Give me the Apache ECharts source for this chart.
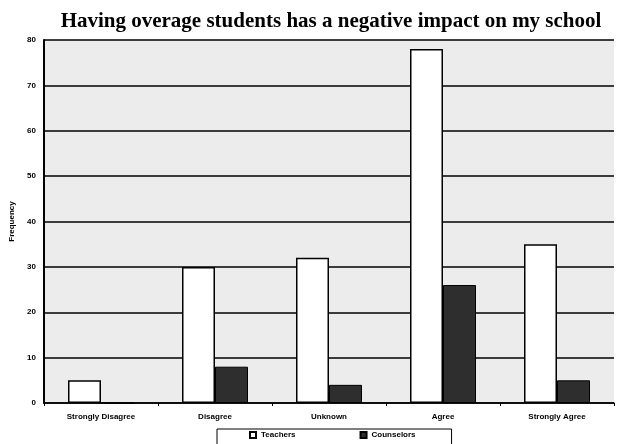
<!DOCTYPE html>
<html>
<head>
<meta charset="utf-8">
<script src="https://cdn.jsdelivr.net/npm/echarts@6/dist/echarts.min.js"></script>
<style>
  html, body { margin: 0; padding: 0; background: #ffffff; }
  #chart { width: 621px; height: 444px; }
</style>
</head>
<body>
<div id="chart"></div>
<script>
// data
const categories = ['Strongly Disagree', 'Disagree', 'Unknown', 'Agree', 'Strongly Agree']
const teachers = [5, 30, 32, 78, 35]
const counselors = [0, 8, 4, 26, 5]
const yTicks = [0, 10, 20, 30, 40, 50, 60, 70, 80]

const myChart = echarts.init(document.getElementById('chart'))

const labelFont = {
  color: '#000000',
  fontSize: 8,
  fontWeight: 'bold',
  fontFamily: 'Liberation Sans'
}

const options = {
  animation: false,
  // title
  title: {
    text: 'Having overage students has a negative impact on my school',
    left: 326,
    textAlign: 'center',
    top: 6,
    textStyle: {
      color: '#000000',
      fontSize: 21,
      fontWeight: 'bold',
      fontFamily: 'Liberation Serif'
    }
  },
  legend: {
    left: 217,
    top: 429,
    icon: 'rect',
    itemWidth: 6,
    itemHeight: 6,
    itemGap: 64,
    padding: [2, 36, 10, 32],
    borderColor: '#000000',
    borderWidth: 1,
    textStyle: labelFont,
    data: ['Teachers', 'Counselors']
  },
  grid: {
    left: 44,
    right: 7,
    top: 40,
    bottom: 41,
    show: true,
    backgroundColor: '#ececec',
    borderWidth: 0
  },
  xAxis: {
    type: 'category',
    data: categories,
    axisLine: { lineStyle: { color: '#000000', width: 1.5 } },
    axisTick: { show: true, length: 3, lineStyle: { color: '#000000' } },
    axisLabel: Object.assign({ margin: 10 }, labelFont)
  },
  yAxis: {
    type: 'value',
    min: yTicks[0],
    max: yTicks[yTicks.length - 1],
    interval: 10,
    name: 'Frequency',
    nameLocation: 'middle',
    nameRotate: 90,
    nameGap: 28,
    nameTextStyle: labelFont,
    axisLine: { show: true, lineStyle: { color: '#000000', width: 2 } },
    axisTick: { show: false },
    axisLabel: Object.assign({ margin: 8 }, labelFont),
    splitLine: { show: true, lineStyle: { color: '#000000', width: 1.5 } }
  },
  series: [
    {
      name: 'Teachers',
      type: 'bar',
      barWidth: 33,
      barGap: '0%',
      itemStyle: { color: '#ffffff', borderColor: '#000000', borderWidth: 1.5 },
      data: teachers
    },
    {
      name: 'Counselors',
      type: 'bar',
      barWidth: 33,
      barGap: '0%',
      itemStyle: { color: '#2e2e2e', borderColor: '#000000', borderWidth: 1 },
      data: counselors
    }
  ]
}
myChart.setOption(options)
</script>
</body>
</html>
